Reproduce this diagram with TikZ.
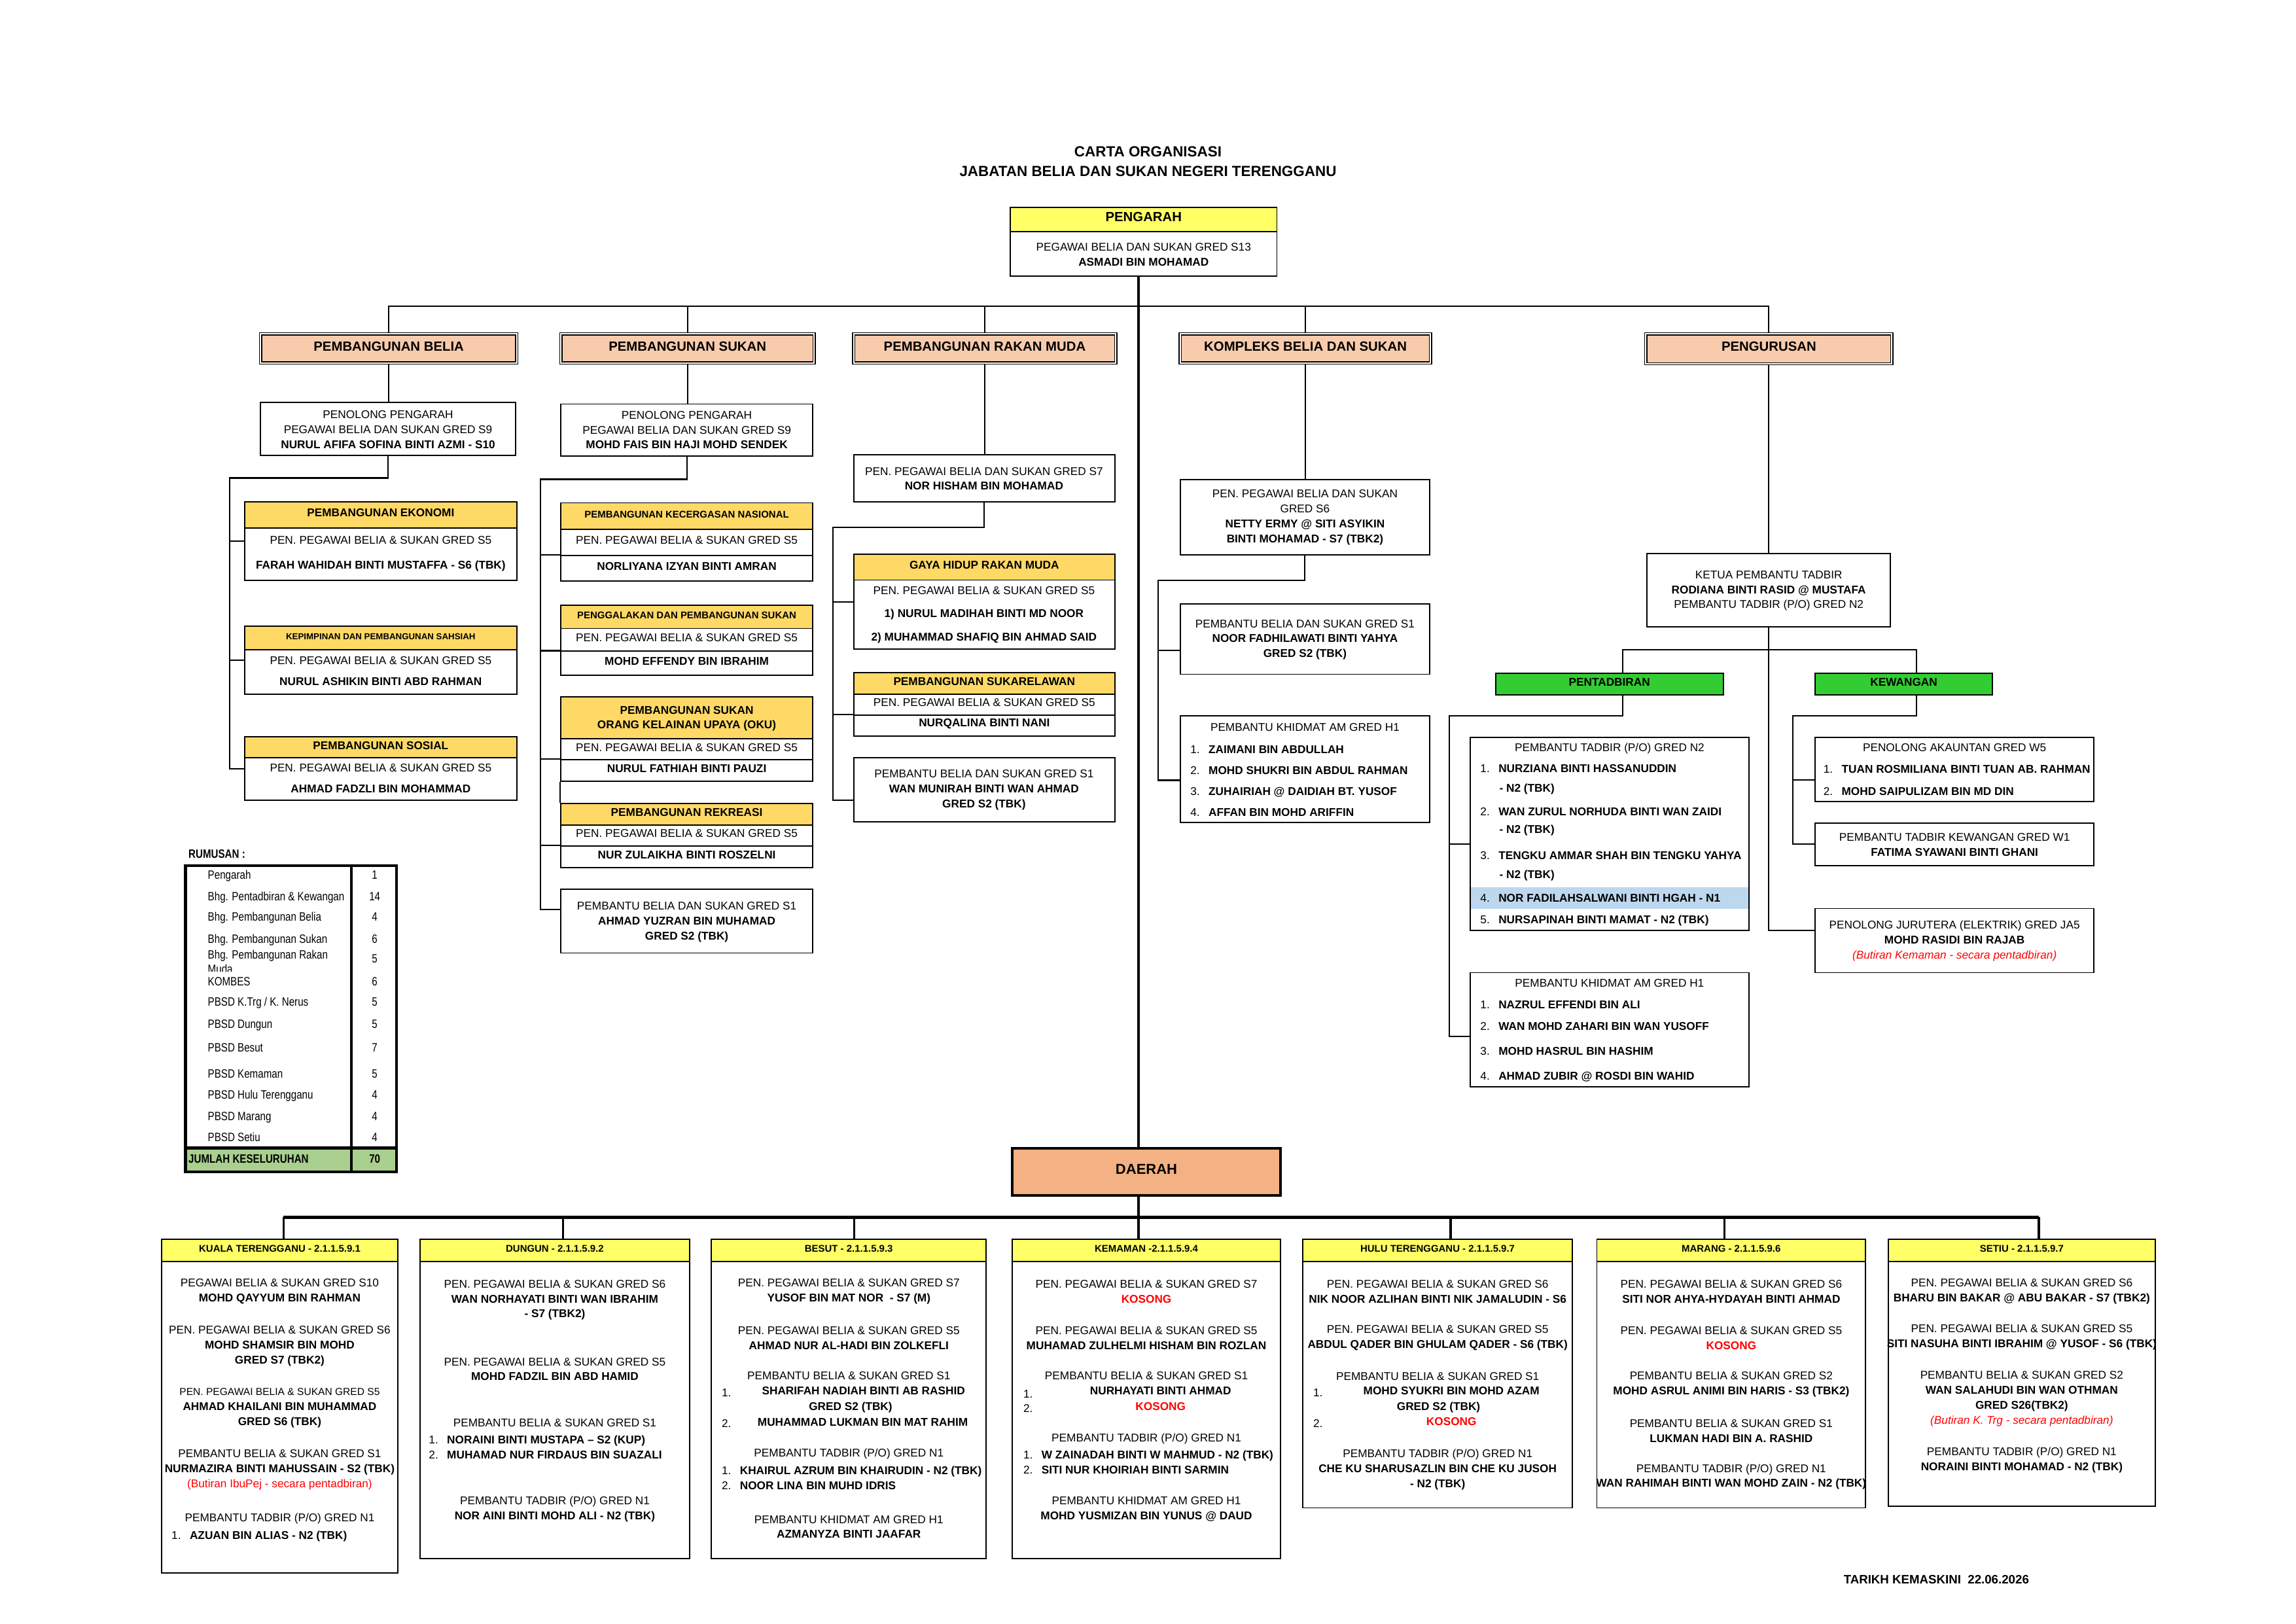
\documentclass[tikz,border=0pt]{standalone}
\usepackage{fontspec}
\setmainfont{Liberation Sans}
\newfontfamily\narrowfont[FakeStretch=0.82]{Liberation Sans}
\usetikzlibrary{fit}

\definecolor{peach}{HTML}{F8CBAD}
\definecolor{gold}{HTML}{FFD966}
\definecolor{lemon}{HTML}{FFFF66}
\definecolor{leaf}{HTML}{33CC33}
\definecolor{salmon}{HTML}{F4B183}
\definecolor{sage}{HTML}{A9D08E}
\definecolor{sky}{HTML}{BDD7EE}
\definecolor{alert}{HTML}{FF0000}

\newcommand{\itm}[1]{\makebox[6.7pt][l]{#1.}}
% fit puts the baseline on the centre, so drop the caps by half their height
\newcommand{\midtext}[1]{\raisebox{-0.358em}{#1}}

\begin{document}
\begin{tikzpicture}[x=0.18941mm, y=-0.18936mm,
    execute at begin picture={\fontsize{4.15}{5.5}\selectfont},
    capht/.style={text height=#1, text depth=0pt},
    box/.style={draw, line width=0.45pt, inner sep=0pt, align=center},
    row/.style={box, fit={#1}},
    hdr/.style={box, fill=gold, font=\bfseries, fit={#1}},
    smallhdr/.style={box, fill=gold, font=\fontsize{3.6}{4.5}\selectfont\bfseries, fit={#1}},
    divbox/.style={draw, line width=0.35pt, double=white, double distance=0.5pt,
        fill=peach, inner sep=0pt, font=\fontsize{4.9}{6}\selectfont\bfseries, fit={#1}},
    distbox/.style={box, fill=lemon, font=\fontsize{3.6}{4.5}\selectfont\bfseries, fit={#1}},
    grnbox/.style={box, fill=leaf, font=\bfseries, fit={#1}},
    txt/.style={inner sep=0pt, align=center},
    nm/.style={txt, font=\bfseries},
    kosong/.style={txt, text=alert, font=\bfseries, capht=3pt},
    lst/.style={inner sep=0pt, anchor=west, align=left},
    t1/.style={txt, capht=3pt},
    n1/.style={nm, capht=3pt},
    l1/.style={lst, capht=3pt},
    rum/.style={inner sep=0pt, anchor=west, font=\narrowfont\fontsize{4.45}{5.5}\selectfont, capht=3.2pt},
    rumn/.style={inner sep=0pt, font=\narrowfont\fontsize{4.45}{5.5}\selectfont, capht=3.2pt},
    link/.style={line width=0.5pt},
    trunk/.style={line width=0.9pt},
    bus/.style={line width=1.3pt}]

    \useasboundingbox (0,0) rectangle (1568,1109);

    % title
    \node[txt, font=\fontsize{5.4}{7.2}\selectfont\bfseries] (title) at (784,110.2)
        {CARTA ORGANISASI\\JABATAN BELIA DAN SUKAN NEGERI TERENGGANU};

    % pengarah
    \node[box, fit={(690,141.5) (872,188.8)}] (pengarah) {};
    \node[hdr={(690,141.5) (872,158.2)}, fill=lemon, font=\fontsize{4.9}{6}\selectfont\bfseries] (pengarahH) {\midtext{PENGARAH}};
    \node[txt] (pengarahT) at (781,174) {PEGAWAI BELIA DAN SUKAN GRED S13\\\textbf{ASMADI BIN MOHAMAD}};

    % bahagian
    \node[divbox={(178,228) (353,248)}] (belia) {\midtext{PEMBANGUNAN BELIA}};
    \node[divbox={(383,228) (556,248)}] (sukan) {\midtext{PEMBANGUNAN SUKAN}};
    \node[divbox={(583,228) (762,248)}] (rakan) {\midtext{PEMBANGUNAN RAKAN MUDA}};
    \node[divbox={(806,228) (977,248)}] (kombes) {\midtext{KOMPLEKS BELIA DAN SUKAN}};
    \node[divbox={(1124,228) (1292,248.5)}] (urus) {\midtext{PENGURUSAN}};

    \coordinate (trunk) at (777.5,209);
    \draw[link] (belia.north) |- (trunk) -| (urus.north);
    \draw[link] (sukan.north) -- (sukan.north |- trunk);
    \draw[link] (rakan.north) -- (rakan.north |- trunk);
    \draw[link] (kombes.north) -- (kombes.north |- trunk);

    %%%%%%%%%%%%%%%%%%%%%%%%%%%%%%%%%%%%%%%%%%%%%%%%%%%%%%%%%

    % pembangunan belia
    \node[box, fit={(178,275) (352,311)}] (beliaPP) {};
    \node[txt] (beliaPPt) at (265,293.6) {PENOLONG PENGARAH\\PEGAWAI BELIA DAN SUKAN GRED S9\\\textbf{NURUL AFIFA SOFINA BINTI AZMI - S10}};

    \node[box, fit={(167,342.7) (353,396.4)}] (ekonomi) {};
    \node[hdr={(167,342.7) (353,360.7)}] (ekonomiH) {\midtext{PEMBANGUNAN EKONOMI}};
    \node[t1] (ekonomi1) at (260,368.7) {PEN. PEGAWAI BELIA \& SUKAN GRED S5};
    \node[n1] (ekonomi2) at (260,386) {FARAH WAHIDAH BINTI MUSTAFFA - S6 (TBK)};

    \node[box, fit={(167,427.7) (353,474.2)}] (kepim) {};
    \node[hdr={(167,427.7) (353,444)}, font=\fontsize{3.2}{4}\selectfont\bfseries] (kepimH) {\midtext{KEPIMPINAN DAN PEMBANGUNAN SAHSIAH}};
    \node[t1] (kepim1) at (260,451) {PEN. PEGAWAI BELIA \& SUKAN GRED S5};
    \node[n1] (kepim2) at (260,465.6) {NURUL ASHIKIN BINTI ABD RAHMAN};

    \node[box, fit={(167,503.4) (353,546.7)}] (sosial) {};
    \node[hdr={(167,503.4) (353,517.5)}] (sosialH) {\midtext{PEMBANGUNAN SOSIAL}};
    \node[t1] (sosial1) at (260,524.4) {PEN. PEGAWAI BELIA \& SUKAN GRED S5};
    \node[n1] (sosial2) at (260,538.7) {AHMAD FADZLI BIN MOHAMMAD};

    \coordinate (beliaSp) at (157,326.5);
    \draw[link] (belia.south) -- (belia.south |- beliaPP.north);
    \draw[link] (beliaPP.south) |- (beliaSp) |- (sosial.west);
    \draw[link] (beliaSp |- ekonomi.west) -- (ekonomi.west);
    \draw[link] (beliaSp |- kepim.west) -- (kepim.west);

    % pembangunan sukan
    \node[box, fit={(383,276) (555,311.5)}] (sukanPP) {};
    \node[txt] (sukanPPt) at (469,293.7) {PENOLONG PENGARAH\\PEGAWAI BELIA DAN SUKAN GRED S9\\\textbf{MOHD FAIS BIN HAJI MOHD SENDEK}};

    \node[smallhdr={(383,343.5) (555,361.5)}] (cergasH) {\midtext{PEMBANGUNAN KECERGASAN NASIONAL}};
    \node[row={(383,361.5) (555,379.3)}] (cergas1) {\midtext{PEN. PEGAWAI BELIA \& SUKAN GRED S5}};
    \node[row={(383,379.3) (555,397)}, font=\bfseries] (cergas2) {\midtext{NORLIYANA IZYAN BINTI AMRAN}};

    \node[smallhdr={(383,413.5) (555,429.3)}] (galakH) {\midtext{PENGGALAKAN DAN PEMBANGUNAN SUKAN}};
    \node[row={(383,429.3) (555,444.9)}] (galak1) {\midtext{PEN. PEGAWAI BELIA \& SUKAN GRED S5}};
    \node[row={(383,444.9) (555,461.3)}, font=\bfseries] (galak2) {\midtext{MOHD EFFENDY BIN IBRAHIM}};

    \node[box, fill=gold, fit={(383,476) (555,504.6)}] (okuH) {};
    \node[nm] (okuHt) at (469,490.9) {PEMBANGUNAN SUKAN\\ORANG KELAINAN UPAYA (OKU)};
    \node[row={(383,504.6) (555,519)}] (oku1) {\midtext{PEN. PEGAWAI BELIA \& SUKAN GRED S5}};
    \node[row={(383,519) (555,533.8)}, font=\bfseries] (oku2) {\midtext{NURUL FATHIAH BINTI PAUZI}};

    \node[hdr={(383,549) (555,563.5)}] (rekreasiH) {\midtext{PEMBANGUNAN REKREASI}};
    \node[row={(383,563.5) (555,578)}] (rekreasi1) {\midtext{PEN. PEGAWAI BELIA \& SUKAN GRED S5}};
    \node[row={(383,578) (555,592.7)}, font=\bfseries] (rekreasi2) {\midtext{NUR ZULAIKHA BINTI ROSZELNI}};
    \draw[line width=0.45pt] (oku2.south west) -- (rekreasiH.north west);

    \node[box, fit={(383,607.4) (555,651)}] (sukanPB) {};
    \node[txt] (sukanPBt) at (469,630) {PEMBANTU BELIA DAN SUKAN GRED S1\\\textbf{AHMAD YUZRAN BIN MUHAMAD}\\\textbf{GRED S2 (TBK)}};

    \coordinate (sukanSp) at (369,327.4);
    \coordinate (sukanPBbr) at ([yshift=1.5mm]sukanPB.west);
    \draw[link] (sukan.south) -- (sukan.south |- sukanPP.north);
    \draw[link] (sukanPP.south) |- (sukanSp) |- (sukanPBbr);
    \draw[link] (sukanSp |- cergas2.north west) -- (cergas2.north west);
    \draw[link] (sukanSp |- galak2.north west) -- (galak2.north west);
    \draw[link] (sukanSp |- oku2.north west) -- (oku2.north west);
    \draw[link] (sukanSp |- rekreasi2.north west) -- (rekreasi2.north west);

    % pembangunan rakan muda
    \node[box, fit={(583,310.7) (761.4,342.7)}] (rakanPP) {};
    \node[txt] (rakanPPt) at (672,327) {PEN. PEGAWAI BELIA DAN SUKAN GRED S7\\\textbf{NOR HISHAM BIN MOHAMAD}};

    \node[box, fit={(583,378.6) (761.4,443.4)}] (gaya) {};
    \node[hdr={(583,378.6) (761.4,396.2)}] (gayaH) {\midtext{GAYA HIDUP RAKAN MUDA}};
    \node[t1] (gaya1) at (672,403.4) {PEN. PEGAWAI BELIA \& SUKAN GRED S5};
    \node[n1] (gaya2) at (672,418.7) {1) NURUL MADIHAH BINTI MD NOOR};
    \node[n1] (gaya3) at (672,434.9) {2) MUHAMMAD SHAFIQ BIN AHMAD SAID};

    \node[hdr={(583,459.6) (761.4,474.2)}] (relaH) {\midtext{PEMBANGUNAN SUKARELAWAN}};
    \node[row={(583,474.2) (761.4,488.4)}] (rela1) {\midtext{PEN. PEGAWAI BELIA \& SUKAN GRED S5}};
    \node[row={(583,488.4) (761.4,503)}, font=\bfseries] (rela2) {\midtext{NURQALINA BINTI NANI}};

    \node[box, fit={(583,517.6) (761.4,561.2)}] (rakanPB) {};
    \node[txt] (rakanPBt) at (672,539.7) {PEMBANTU BELIA DAN SUKAN GRED S1\\\textbf{WAN MUNIRAH BINTI WAN AHMAD}\\\textbf{GRED S2 (TBK)}};

    \coordinate (rakanSp) at (569,360.2);
    \coordinate (rakanPBbr) at ([yshift=-1.4mm]rakanPB.west);
    \draw[link] (rakan.south) -- (rakan.south |- rakanPP.north);
    \draw[link] (rakanPP.south) |- (rakanSp) |- (rakanPBbr);
    \draw[link] (rakanSp |- gaya.west) -- (gaya.west);
    \draw[link] (rakanSp |- rela2.north west) -- (rela2.north west);

    % kompleks belia dan sukan
    \node[box, fit={(806,327.5) (976.4,378.9)}] (kombesPP) {};
    \node[txt] (kombesPPt) at (891.2,353.5) {PEN. PEGAWAI BELIA DAN SUKAN\\GRED S6\\\textbf{NETTY ERMY @ SITI ASYIKIN}\\\textbf{BINTI MOHAMAD - S7 (TBK2)}};
    \node[box, fit={(806,412.7) (976.4,460.6)}] (kombesPB) {};
    \node[txt] (kombesPBt) at (891.2,437) {PEMBANTU BELIA DAN SUKAN GRED S1\\\textbf{NOOR FADHILAWATI BINTI YAHYA}\\\textbf{GRED S2 (TBK)}};
    \node[box, fit={(806,489.1) (976.4,561.9)}] (kombesPKA) {};
    \node[t1] (kombesPKAt) at (891.2,496.5) {PEMBANTU KHIDMAT AM GRED H1};
    \node[lst, font=\fontsize{4.15}{7.71}\selectfont] (kombesL) at (812.6,533.6)
        {\itm{1}\textbf{ZAIMANI BIN ABDULLAH}\\\itm{2}\textbf{MOHD SHUKRI BIN ABDUL RAHMAN}\\\itm{3}\textbf{ZUHAIRIAH @ DAIDIAH BT. YUSOF}\\\itm{4}\textbf{AFFAN BIN MOHD ARIFFIN}};

    \coordinate (kombesSp) at (791,396.5);
    \coordinate (kombesPBbr) at ([yshift=-1.45mm]kombesPB.west);
    \coordinate (kombesPKAbr) at ([yshift=-1.42mm]kombesPKA.west);
    \draw[link] (kombes.south) -- (kombes.south |- kombesPP.north);
    \draw[link] (kombesPP.south) |- (kombesSp) |- (kombesPKAbr);
    \draw[link] (kombesSp |- kombesPBbr) -- (kombesPBbr);

    %%%%%%%%%%%%%%%%%%%%%%%%%%%%%%%%%%%%%%%%%%%%%%%%%%%%%%%%%

    % pengurusan
    \node[box, fit={(1124.6,378) (1291.1,428.1)}] (ketua) {};
    \node[txt] (ketuaT) at (1207.9,403.6) {KETUA PEMBANTU TADBIR\\\textbf{RODIANA BINTI RASID @ MUSTAFA}\\PEMBANTU TADBIR (P/O) GRED N2};
    \node[grnbox={(1021.3,460) (1176.9,474.7)}] (pentadbiran) {\midtext{PENTADBIRAN}};
    \node[grnbox={(1239.7,460) (1360.6,474.7)}] (kewangan) {\midtext{KEWANGAN}};

    % pentadbiran
    \node[fill=sky, inner sep=0pt, fit={(1004.2,606.2) (1194.3,620.8)}] (ptHi) {};
    \node[box, fit={(1003.9,503.9) (1194.6,635.4)}] (ptN2) {};
    \node[t1] (ptN2t) at (1099.2,510.5) {PEMBANTU TADBIR (P/O) GRED N2};
    \node[l1] (ptN2a) at (1010.6,524.8) {\itm{1}\textbf{NURZIANA BINTI HASSANUDDIN}};
    \node[l1] (ptN2b) at (1023.6,538.4) {\textbf{- N2 (TBK)}};
    \node[l1] (ptN2c) at (1010.6,554.5) {\itm{2}\textbf{WAN ZURUL NORHUDA BINTI WAN ZAIDI}};
    \node[l1] (ptN2d) at (1023.6,566.6) {\textbf{- N2 (TBK)}};
    \node[l1] (ptN2e) at (1010.6,584.1) {\itm{3}\textbf{TENGKU AMMAR SHAH BIN TENGKU YAHYA}};
    \node[l1] (ptN2f) at (1023.6,597.4) {\textbf{- N2 (TBK)}};
    \node[l1] (ptN2g) at (1010.6,613.4) {\itm{4}\textbf{NOR FADILAHSALWANI BINTI HGAH - N1}};
    \node[l1] (ptN2h) at (1010.6,628) {\itm{5}\textbf{NURSAPINAH BINTI MAMAT - N2 (TBK)}};

    \node[box, fit={(1003.9,664.4) (1194.6,742.3)}] (ptH1) {};
    \node[t1] (ptH1t) at (1099.2,671.4) {PEMBANTU KHIDMAT AM GRED H1};
    \node[l1] (ptH1a) at (1010.6,686) {\itm{1}\textbf{NAZRUL EFFENDI BIN ALI}};
    \node[l1] (ptH1b) at (1010.6,701) {\itm{2}\textbf{WAN MOHD ZAHARI BIN WAN YUSOFF}};
    \node[l1] (ptH1c) at (1010.6,718) {\itm{3}\textbf{MOHD HASRUL BIN HASHIM}};
    \node[l1] (ptH1d) at (1010.6,734.8) {\itm{4}\textbf{AHMAD ZUBIR @ ROSDI BIN WAHID}};

    % kewangan
    \node[box, fit={(1239.7,503.9) (1430,547.6)}] (akaun) {};
    \node[t1] (akaunT) at (1334.8,510.5) {PENOLONG AKAUNTAN GRED W5};
    \node[l1] (akaun1) at (1244.9,525.4) {\itm{1}\textbf{TUAN ROSMILIANA BINTI TUAN AB. RAHMAN}};
    \node[l1] (akaun2) at (1244.9,540.4) {\itm{2}\textbf{MOHD SAIPULIZAM BIN MD DIN}};
    \node[box, fit={(1239.7,562.1) (1430,591.4)}] (ptKew) {};
    \node[txt] (ptKewT) at (1334.8,577) {PEMBANTU TADBIR KEWANGAN GRED W1\\\textbf{FATIMA SYAWANI BINTI GHANI}};
    \node[box, fit={(1239.7,620.6) (1430,664.4)}] (jurutera) {};
    \node[txt] (juruteraT) at (1334.8,642.8) {PENOLONG JURUTERA (ELEKTRIK) GRED JA5\\\textbf{MOHD RASIDI BIN RAJAB}\\\textcolor{alert}{\itshape (Butiran Kemaman - secara pentadbiran)}};

    \coordinate (pdrop) at (1108,443.7);
    \coordinate (kdrop) at (1308.6,443.7);
    \coordinate (ptSp) at (989.8,489.1);
    \coordinate (kwSp) at (1224.3,489.1);
    \coordinate (ptN2br) at ([yshift=-1.28mm]ptN2.west);
    \coordinate (ptH1br) at ([yshift=-0.86mm]ptH1.west);
    \coordinate (akaunBr) at ([yshift=-1.3mm]akaun.west);
    \coordinate (juruBr) at ([yshift=1.34mm]jurutera.west);
    \draw[link] (urus.south) -- (urus.south |- ketua.north);
    \draw[link] (ketua.south) |- (juruBr);
    \draw[link] (pdrop |- pentadbiran.north) -- (pdrop) -- (kdrop) -- (kdrop |- kewangan.north);
    \draw[link] (pdrop |- pentadbiran.south) |- (ptSp) |- (ptH1br);
    \draw[link] (ptSp |- ptN2br) -- (ptN2br);
    \draw[link] (kdrop |- kewangan.south) |- (kwSp) |- (ptKew.west);
    \draw[link] (kwSp |- akaunBr) -- (akaunBr);

    %%%%%%%%%%%%%%%%%%%%%%%%%%%%%%%%%%%%%%%%%%%%%%%%%%%%%%%%%

    % rumusan
    \node[inner sep=0pt, anchor=west, font=\narrowfont\fontsize{4.45}{5.5}\selectfont\bfseries, capht=3.2pt] (rumusan) at (128.4,583.4) {RUMUSAN :};
    \node[fill=sage, inner sep=0pt, fit={(126.7,784.2) (270.9,800.6)}] (jumlahBg) {};
    \node[draw, line width=1pt, inner sep=0pt, fit={(126.7,591.3) (270.9,800.6)}] (rumTable) {};
    \draw[line width=1pt] (239.9,591.3) -- (239.9,800.6);
    \draw[line width=1pt] (126.7,784.2) -- (270.9,784.2);

    \node[rum] (r1) at (141.6,597.3) {Pengarah};                     \node[rumn] (n1) at (255.9,597.3) {1};
    \node[rum] (r2) at (141.6,612.2) {Bhg. Pentadbiran \& Kewangan};  \node[rumn] (n2) at (255.9,612.2) {14};
    \node[rum] (r3) at (141.6,626.3) {Bhg. Pembangunan Belia};       \node[rumn] (n3) at (255.9,626.3) {4};
    \node[rum] (r4) at (141.6,641.2) {Bhg. Pembangunan Sukan};       \node[rumn] (n4) at (255.9,641.2) {6};
    \begin{scope}
        \clip (127.5,645) rectangle (239,663.6);
        \node[inner sep=0pt, anchor=west, align=left, font=\narrowfont\fontsize{4.45}{5.35}\selectfont] (r5) at (141.6,657) {Bhg. Pembangunan Rakan\\Muda};
    \end{scope}
    \node[rumn] (n5) at (255.9,654.6) {5};
    \node[rum] (r6) at (141.6,670.3) {KOMBES};                      \node[rumn] (n6) at (255.9,670.3) {6};
    \node[rum] (r7) at (141.6,684.4) {PBSD K.Trg / K. Nerus};        \node[rumn] (n7) at (255.9,684.4) {5};
    \node[rum] (r8) at (141.6,699.3) {PBSD Dungun};                 \node[rumn] (n8) at (255.9,699.3) {5};
    \node[rum] (r9) at (141.6,715.7) {PBSD Besut};                  \node[rumn] (n9) at (255.9,715.7) {7};
    \node[rum] (r10) at (141.6,733.3) {PBSD Kemaman};               \node[rumn] (n10) at (255.9,733.3) {5};
    \node[rum] (r11) at (141.6,747.7) {PBSD Hulu Terengganu};       \node[rumn] (n11) at (255.9,747.7) {4};
    \node[rum] (r12) at (141.6,762.6) {PBSD Marang};                \node[rumn] (n12) at (255.9,762.6) {4};
    \node[rum] (r13) at (141.6,776.8) {PBSD Setiu};                 \node[rumn] (n13) at (255.9,776.8) {4};
    \node[rum, font=\narrowfont\fontsize{4.45}{5.5}\selectfont\bfseries] (r14) at (128.4,791.7) {JUMLAH KESELURUHAN};
    \node[rumn, font=\narrowfont\fontsize{4.45}{5.5}\selectfont\bfseries] (n14) at (255.9,791.7) {70};

    %%%%%%%%%%%%%%%%%%%%%%%%%%%%%%%%%%%%%%%%%%%%%%%%%%%%%%%%%

    % daerah
    \node[draw, line width=1pt, fill=salmon, inner sep=0pt, font=\fontsize{5.3}{6.5}\selectfont\bfseries, fit={(691.3,784.3) (874.5,816.5)}] (daerah) {\midtext{DAERAH}};
    \draw[trunk] (pengarah.south -| trunk) -- (daerah.north -| trunk);

    % kuala terengganu
    \node[box, fit={(110.5,846.7) (271.6,1074.6)}] (kt) {};
    \node[distbox={(110.5,846.7) (271.6,861.9)}] (ktH) {\midtext{KUALA TERENGGANU - 2.1.1.5.9.1}};
    \node[txt] (kt1) at (191,882.3) {PEGAWAI BELIA \& SUKAN GRED S10\\\textbf{MOHD QAYYUM BIN RAHMAN}};
    \node[txt] (kt2) at (191,919.5) {PEN. PEGAWAI BELIA \& SUKAN GRED S6\\\textbf{MOHD SHAMSIR BIN MOHD}\\\textbf{GRED S7 (TBK2)}};
    \node[txt, font=\fontsize{3.75}{5}\selectfont, capht=2.7pt] (kt3) at (191,950.5) {PEN. PEGAWAI BELIA \& SUKAN GRED S5};
    \node[nm] (kt4) at (191,966.6) {AHMAD KHAILANI BIN MUHAMMAD\\GRED S6 (TBK)};
    \node[txt] (kt5) at (191,1004.1) {PEMBANTU BELIA \& SUKAN GRED S1\\\textbf{NURMAZIRA BINTI MAHUSSAIN - S2 (TBK)}\\\textcolor{alert}{(Butiran IbuPej - secara pentadbiran)}};
    \node[t1] (kt6) at (191,1036.6) {PEMBANTU TADBIR (P/O) GRED N1};
    \node[l1] (kt7) at (116.8,1048.7) {\itm{1}\textbf{AZUAN BIN ALIAS - N2 (TBK)}};

    % dungun
    \node[box, fit={(287,846.7) (470.8,1064.5)}] (dungun) {};
    \node[distbox={(287,846.7) (470.8,861.9)}] (dungunH) {\midtext{DUNGUN - 2.1.1.5.9.2}};
    \node[txt] (dg1) at (378.9,888) {PEN. PEGAWAI BELIA \& SUKAN GRED S6\\\textbf{WAN NORHAYATI BINTI WAN IBRAHIM}\\\textbf{- S7 (TBK2)}};
    \node[txt] (dg2) at (378.9,935.3) {PEN. PEGAWAI BELIA \& SUKAN GRED S5\\\textbf{MOHD FADZIL BIN ABD HAMID}};
    \node[t1] (dg3) at (378.9,971.7) {PEMBANTU BELIA \& SUKAN GRED S1};
    \node[lst] (dg4) at (292.5,988.5) {\itm{1}\textbf{NORAINI BINTI MUSTAPA \textendash{} S2 (KUP)}\\\itm{2}\textbf{MUHAMAD NUR FIRDAUS BIN SUAZALI}};
    \node[txt] (dg5) at (378.9,1030.8) {PEMBANTU TADBIR (P/O) GRED N1\\\textbf{NOR AINI BINTI MOHD ALI - N2 (TBK)}};

    % besut
    \node[box, fit={(485.9,846.7) (673.4,1064.5)}] (besut) {};
    \node[distbox={(485.9,846.7) (673.4,861.9)}] (besutH) {\midtext{BESUT - 2.1.1.5.9.3}};
    \node[txt] (bs1) at (579.7,882.3) {PEN. PEGAWAI BELIA \& SUKAN GRED S7\\\textbf{YUSOF BIN MAT NOR \ - S7 (M)}};
    \node[txt] (bs2) at (579.7,914.1) {PEN. PEGAWAI BELIA \& SUKAN GRED S5\\\textbf{AHMAD NUR AL-HADI BIN ZOLKEFLI}};
    \node[t1] (bs3) at (579.7,939.6) {PEMBANTU BELIA \& SUKAN GRED S1};
    \node[l1] (bs4) at (492.5,951.3) {1.};
    \node[n1] (bs5) at (589.7,949.9) {SHARIFAH NADIAH BINTI AB RASHID};
    \node[n1] (bs6) at (580.9,960.6) {GRED S2 (TBK)};
    \node[l1] (bs7) at (492.5,972.3) {2.};
    \node[n1] (bs8) at (589.2,971.3) {MUHAMMAD LUKMAN BIN MAT RAHIM};
    \node[t1] (bs9) at (579.7,992.4) {PEMBANTU TADBIR (P/O) GRED N1};
    \node[lst] (bs10) at (492.5,1009.6) {\itm{1}\textbf{KHAIRUL AZRUM BIN KHAIRUDIN - N2 (TBK)}\\\itm{2}\textbf{NOOR LINA BIN MUHD IDRIS}};
    \node[txt] (bs11) at (579.7,1043) {PEMBANTU KHIDMAT AM GRED H1\\\textbf{AZMANYZA BINTI JAAFAR}};

    % kemaman
    \node[box, fit={(691.3,846.7) (874.5,1064.5)}] (kemaman) {};
    \node[distbox={(691.3,846.7) (874.5,861.9)}] (kemamanH) {\midtext{KEMAMAN -2.1.1.5.9.4}};
    \node[txt] (km1) at (782.9,882.3) {PEN. PEGAWAI BELIA \& SUKAN GRED S7\\\textcolor{alert}{\textbf{KOSONG}}};
    \node[txt] (km2) at (782.9,914.1) {PEN. PEGAWAI BELIA \& SUKAN GRED S5\\\textbf{MUHAMAD ZULHELMI HISHAM BIN ROZLAN}};
    \node[t1] (km3) at (782.9,939.6) {PEMBANTU BELIA \& SUKAN GRED S1};
    \node[lst] (km4) at (698.5,957.2) {1.\\2.};
    \node[n1] (km5) at (792.6,949.9) {NURHAYATI BINTI AHMAD};
    \node[kosong] (km6) at (792.6,960.6) {KOSONG};
    \node[t1] (km7) at (782.9,982) {PEMBANTU TADBIR (P/O) GRED N1};
    \node[lst] (km8) at (698.5,998.8) {\itm{1}\textbf{W ZAINADAH BINTI W MAHMUD - N2 (TBK)}\\\itm{2}\textbf{SITI NUR KHOIRIAH BINTI SARMIN}};
    \node[txt] (km9) at (782.9,1030.8) {PEMBANTU KHIDMAT AM GRED H1\\\textbf{MOHD YUSMIZAN BIN YUNUS @ DAUD}};

    % hulu terengganu
    \node[box, fit={(889.6,846.7) (1073.9,1030)}] (hulu) {};
    \node[distbox={(889.6,846.7) (1073.9,861.9)}] (huluH) {\midtext{HULU TERENGGANU - 2.1.1.5.9.7}};
    \node[txt] (hl1) at (981.8,882.3) {PEN. PEGAWAI BELIA \& SUKAN GRED S6\\\textbf{NIK NOOR AZLIHAN BINTI NIK JAMALUDIN - S6}};
    \node[txt] (hl2) at (981.8,914) {PEN. PEGAWAI BELIA \& SUKAN GRED S5\\\textbf{ABDUL QADER BIN GHULAM QADER - S6 (TBK)}};
    \node[t1] (hl3) at (981.8,939.9) {PEMBANTU BELIA \& SUKAN GRED S1};
    \node[l1] (hl4) at (896.5,951.1) {1.};
    \node[n1] (hl5) at (991.2,949.8) {MOHD SYUKRI BIN MOHD AZAM};
    \node[n1] (hl6) at (982.4,960.6) {GRED S2 (TBK)};
    \node[l1] (hl7) at (896.5,972.3) {2.};
    \node[kosong] (hl8) at (991.2,970.7) {KOSONG};
    \node[txt] (hl9) at (981.8,1003.8) {PEMBANTU TADBIR (P/O) GRED N1\\\textbf{CHE KU SHARUSAZLIN BIN CHE KU JUSOH}\\\textbf{- N2 (TBK)}};

    % marang
    \node[box, fit={(1090.5,846.7) (1274,1030)}] (marang) {};
    \node[distbox={(1090.5,846.7) (1274,861.9)}] (marangH) {\midtext{MARANG - 2.1.1.5.9.6}};
    \node[txt] (mr1) at (1182.3,882.3) {PEN. PEGAWAI BELIA \& SUKAN GRED S6\\\textbf{SITI NOR AHYA-HYDAYAH BINTI AHMAD}};
    \node[txt] (mr2) at (1182.3,914) {PEN. PEGAWAI BELIA \& SUKAN GRED S5\\\textcolor{alert}{\textbf{KOSONG}}};
    \node[txt] (mr3) at (1182.3,945.7) {PEMBANTU BELIA \& SUKAN GRED S2\\\textbf{MOHD ASRUL ANIMI BIN HARIS - S3 (TBK2)}};
    \node[txt] (mr4) at (1182.3,977.4) {PEMBANTU BELIA \& SUKAN GRED S1\\\textbf{LUKMAN HADI BIN A. RASHID}};
    \node[txt] (mr5) at (1182.3,1008.8) {PEMBANTU TADBIR (P/O) GRED N1\\\textbf{WAN RAHIMAH BINTI WAN MOHD ZAIN - N2 (TBK)}};

    % setiu
    \node[box, fit={(1289.4,846.7) (1472,1029)}] (setiu) {};
    \node[distbox={(1289.4,846.7) (1472,861.9)}] (setiuH) {\midtext{SETIU - 2.1.1.5.9.7}};
    \node[txt] (st1) at (1380.7,882.1) {PEN. PEGAWAI BELIA \& SUKAN GRED S6\\\textbf{BHARU BIN BAKAR @ ABU BAKAR - S7 (TBK2)}};
    \node[txt] (st2) at (1380.7,913.4) {PEN. PEGAWAI BELIA \& SUKAN GRED S5\\\textbf{SITI NASUHA BINTI IBRAHIM @ YUSOF - S6 (TBK)}};
    \node[txt] (st3) at (1380.7,955.5) {PEMBANTU BELIA \& SUKAN GRED S2\\\textbf{WAN SALAHUDI BIN WAN OTHMAN}\\\textbf{GRED S26(TBK2)}\\\textcolor{alert}{\itshape (Butiran K. Trg - secara pentadbiran)}};
    \node[txt] (st4) at (1380.7,997.4) {PEMBANTU TADBIR (P/O) GRED N1\\\textbf{NORAINI BINTI MOHAMAD - N2 (TBK)}};

    % daerah connectors
    \coordinate (d1) at (193.7,831.5);
    \coordinate (d2) at (384.5,831.5);
    \coordinate (d3) at (583.4,831.5);
    \coordinate (d4) at (777.5,831.5);
    \coordinate (d5) at (990.7,831.5);
    \coordinate (d6) at (1177.7,831.5);
    \coordinate (d7) at (1392.3,831.5);
    \draw[trunk] (daerah.south -| trunk) -- (d4);
    \draw[bus] (d1) -- (d7);
    \draw[trunk] (d1) -- (d1 |- kt.north);
    \draw[trunk] (d2) -- (d2 |- dungun.north);
    \draw[trunk] (d3) -- (d3 |- besut.north);
    \draw[trunk] (d4) -- (d4 |- kemaman.north);
    \draw[trunk] (d5) -- (d5 |- hulu.north);
    \draw[trunk] (d6) -- (d6 |- marang.north);
    \draw[trunk] (d7) -- (d7 |- setiu.north);

    % tarikh
    \node[anchor=east, inner sep=0pt, font=\fontsize{4.5}{5.5}\selectfont\bfseries, capht=3.2pt] (tarikh) at (1386,1079) {TARIKH KEMASKINI \ 22.06.2026};

\end{tikzpicture}
\end{document}
